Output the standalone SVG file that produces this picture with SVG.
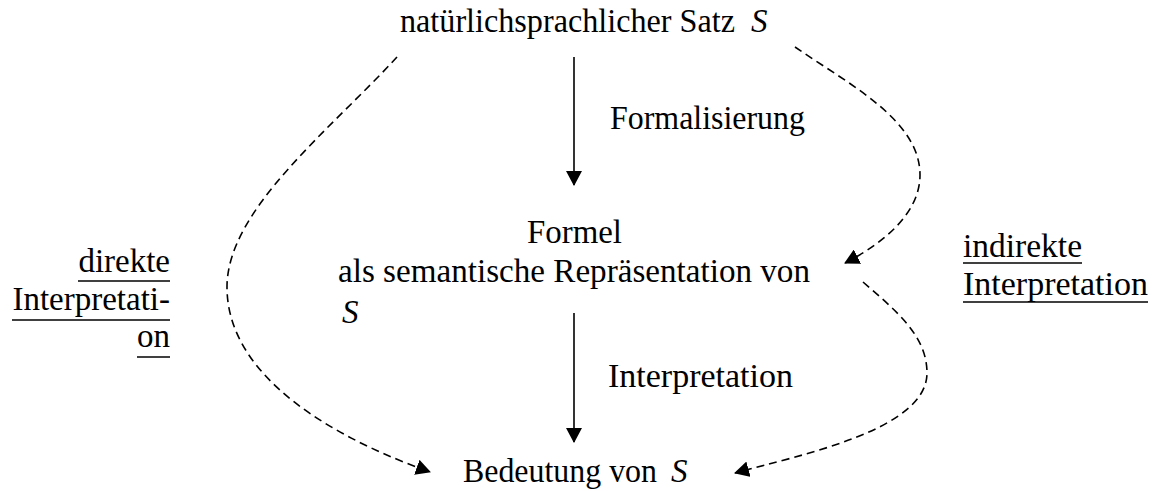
<svg xmlns="http://www.w3.org/2000/svg" width="1156" height="491" viewBox="0 0 1156 491">
<style>
text{font-family:"Liberation Serif","DejaVu Serif",serif;font-size:33px;fill:#000}
.it{font-style:italic}
.ul{stroke:#000;stroke-width:1.6}
.solid{fill:none;stroke:#000;stroke-width:1.6;marker-end:url(#ah)}
.dash{fill:none;stroke:#000;stroke-width:1.6;stroke-dasharray:8 5;marker-end:url(#ah)}
</style>
<defs>
<marker id="ah" viewBox="0 0 15 16" refX="14" refY="8" markerWidth="15" markerHeight="16" markerUnits="userSpaceOnUse" orient="auto">
<path d="M0,0 L15,8 L0,16 z" fill="#000"/>
</marker>
</defs>
<rect width="1156" height="491" fill="#fff"/>
<g id="satz">
<text x="400" y="32" textLength="335" lengthAdjust="spacingAndGlyphs">natürlichsprachlicher Satz</text>
<text class="it" x="751" y="32">S</text>
</g>
<g id="formel">
<text x="527" y="243" textLength="95" lengthAdjust="spacingAndGlyphs">Formel</text>
<text x="338" y="282" textLength="472" lengthAdjust="spacingAndGlyphs">als semantische Repräsentation von</text>
<text class="it" x="342" y="323">S</text>
</g>
<g id="bedeutung">
<text x="463" y="482" textLength="194" lengthAdjust="spacingAndGlyphs">Bedeutung von</text>
<text class="it" x="671" y="482">S</text>
</g>
<g id="label-formalisierung">
<text x="610" y="129" textLength="195" lengthAdjust="spacingAndGlyphs">Formalisierung</text>
</g>
<g id="label-interpretation">
<text x="608" y="387" textLength="185" lengthAdjust="spacingAndGlyphs">Interpretation</text>
</g>
<g id="label-direkt">
<text x="170" y="272" text-anchor="end">direkte</text>
<text x="170" y="310" text-anchor="end">Interpretati-</text>
<text x="170" y="347" text-anchor="end">on</text>
<line class="ul" x1="78" y1="281" x2="170" y2="281"/>
<line class="ul" x1="12" y1="320" x2="170" y2="320"/>
<line class="ul" x1="137" y1="357" x2="170" y2="357"/>
</g>
<g id="label-indirekt">
<text x="963" y="257" textLength="119" lengthAdjust="spacingAndGlyphs">indirekte</text>
<text x="963" y="295" textLength="185" lengthAdjust="spacingAndGlyphs">Interpretation</text>
<line class="ul" x1="963" y1="263" x2="1082" y2="263"/>
<line class="ul" x1="963" y1="302" x2="1148" y2="302"/>
</g>
<g id="connectors">
<path class="solid" d="M574,57 L574,185"/>
<path class="solid" d="M574,313 L574,442"/>
<path class="dash" d="M397,57 C330,130 227,210 227,287 C227,380 340,440 430,472"/>
<path class="dash" d="M795,47 C850,85 920,120 920,175 C920,215 880,245 845,263"/>
<path class="dash" d="M863,282 C895,310 927,335 927,373 C927,430 800,455 735,473"/>
</g>
</svg>
